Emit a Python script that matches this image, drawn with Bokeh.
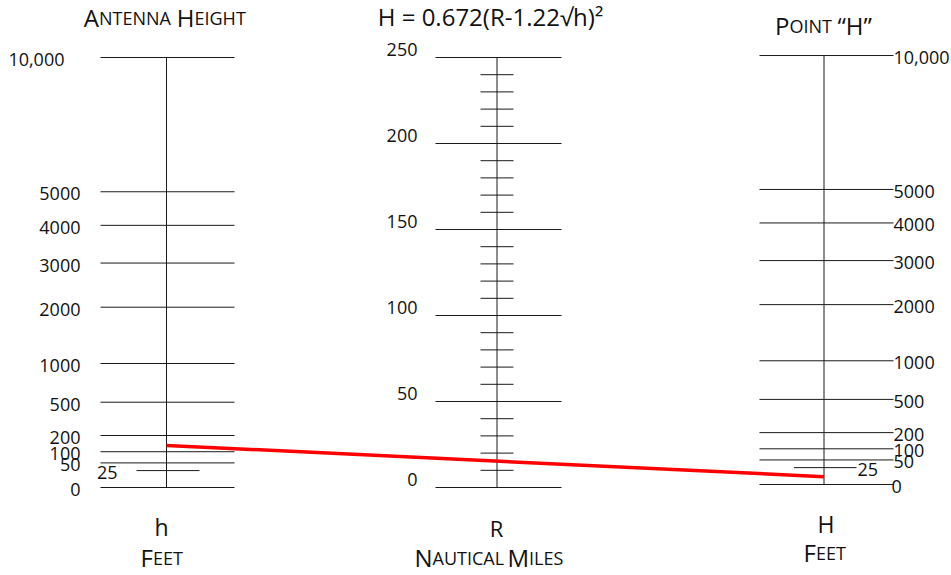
import numpy as np
from bokeh.plotting import figure
from bokeh.models import Range1d
from bokeh.core.properties import value
from bokeh.embed import file_html
from bokeh.resources import INLINE

# ---- scale values -------------------------------------------------------
# Antenna height h (feet), left scale
h_ticks = [0, 25, 50, 100, 200, 500, 1000, 2000, 3000, 4000, 5000, 10000]
h_labels = ["0", "25", "50", "100", "200", "500", "1000", "2000", "3000", "4000", "5000", "10,000"]
h_short = [25]

# Range R (nautical miles), middle scale
r_major = [0, 50, 100, 150, 200, 250]
r_labels = ["0", "50", "100", "150", "200", "250"]
r_minor = [10, 20, 30, 40, 60, 70, 80, 90, 110, 120, 130, 140,
           160, 170, 180, 190, 210, 220, 230, 240]

# Point "H" (feet), right scale
H_ticks = [0, 25, 50, 100, 200, 500, 1000, 2000, 3000, 4000, 5000, 10000]
H_labels = ["0", "25", "50", "100", "200", "500", "1000", "2000", "3000", "4000", "5000", "10,000"]
H_short = [25]

# Worked example drawn across the nomogram
h_example = 135
H_example = 6

# ---- geometry ------------------------------------------------------------
W, HGT = 951, 575
PX_PER_R = 1.72          # screen pixels per nautical mile on the R scale
R0_ROW = 487             # screen row of R = 0
SCALE_EXP = 0.54         # stretch of the height scales
XL, XM, XR = 166, 496.5, 823.5
FONT = value("Open Sans")
INK = "#111111"
BASELINE_SHIFT = -10     # lifts alphabetic-baseline text onto its row


def row(py):
    """Screen row -> y in R units."""
    return (R0_ROW - py) / PX_PER_R


def h_pos(h):
    return 250.0 * (np.asarray(h, dtype=float) / 10000.0) ** SCALE_EXP


def H_pos(H):
    return 1.75 + 249.4 * (np.asarray(H, dtype=float) / 10000.0) ** SCALE_EXP


p = figure(width=W, height=HGT, output_backend="svg", toolbar_location=None,
           x_range=Range1d(0, W), y_range=Range1d(row(HGT), row(0)),
           x_axis_type=None, y_axis_type=None, min_border=0)
p.grid.visible = False
p.outline_line_color = None
p.background_fill_color = "white"
p.border_fill_color = "white"


def seg(x0, y0, x1, y1, color="#1a1a1a", width=1.0):
    p.segment(x0=x0, y0=y0, x1=x1, y1=y1, line_color=color, line_width=width)


def txt(x, y, t, size, align="left", baseline="middle", yoff=0):
    p.text(x=x, y=y, text=t, text_font=FONT, text_font_size=value(size),
           text_align=align, text_baseline=baseline, text_color=INK,
           y_offset=yoff)


def caption(x, baseline_row, t, size, align="center"):
    txt([x], [row(baseline_row)], [t], size, align=align,
        baseline="alphabetic", yoff=BASELINE_SHIFT)


# ---- left scale: h --------------------------------------------------------
hy = h_pos(h_ticks)
seg([XL], [h_pos(0)], [XL], [h_pos(10000)])
seg([XL - (30 if v in h_short else 66) for v in h_ticks], list(hy),
    [XL + (33 if v in h_short else 68) for v in h_ticks], list(hy))
left_lx = {10000: 64, 25: 117}
txt([left_lx.get(v, 80) for v in h_ticks], list(hy), h_labels, "18px",
    align="right", yoff=2)

# ---- middle scale: R ------------------------------------------------------
seg([XM], [0], [XM], [250])
seg([XM - 61.5] * len(r_major), r_major, [XM + 64.5] * len(r_major), r_major)
seg([XM - 16.5] * len(r_minor), r_minor, [XM + 16.5] * len(r_minor), r_minor)
txt([417] * len(r_major), r_major, r_labels, "18px", align="right", yoff=-8)

# ---- right scale: H -------------------------------------------------------
Hy = H_pos(H_ticks)
seg([XR], [H_pos(0)], [XR], [H_pos(10000)])
seg([XR - (30 if v in H_short else 64.5) for v in H_ticks], list(Hy),
    [XR + (32.5 if v in H_short else 69.5) for v in H_ticks], list(Hy))
right_lx = {25: 857, 0: 891}
txt([right_lx.get(v, 893) for v in H_ticks], list(Hy), H_labels, "18px",
    align="left", yoff=2)

# ---- example line ---------------------------------------------------------
p.line(x=[XL, XR], y=[float(h_pos(h_example)), float(H_pos(H_example))],
       line_color="#ff0000", line_width=3.5)


# ---- headings (small caps built from large and small runs) ----------------
def small_caps(runs, baseline_row):
    """runs: (text, anchor_x, is_capital); capitals end at the anchor,
    small letters start at it."""
    for t, ax, cap in runs:
        caption(ax, baseline_row, t, "24px" if cap else "18px",
                align="right" if cap else "left")


small_caps([("A", 98.5, True), ("NTENNA", 98.5, False),
            ("H", 194, True), ("EIGHT", 194, False)], 27)
small_caps([("P", 789, True), ("OINT", 789, False)], 35)
caption(837, 35, "\u201cH\u201d", "24px", align="left")

caption(490, 26, "H = 0.672(R-1.22\u221ah)\u00b2", "24px")

# bottom captions
caption(161, 536, "h", "23px")
small_caps([("F", 152.5, True), ("EET", 152.5, False)], 567)

caption(496, 537, "R", "22px")
small_caps([("N", 432, True), ("AUTICAL", 432, False),
            ("M", 528.5, True), ("ILES", 528.5, False)], 567)

caption(825.5, 533, "H", "23px")
small_caps([("F", 815.5, True), ("EET", 815.5, False)], 562)

open("out.html", "w").write(file_html(p, INLINE))
